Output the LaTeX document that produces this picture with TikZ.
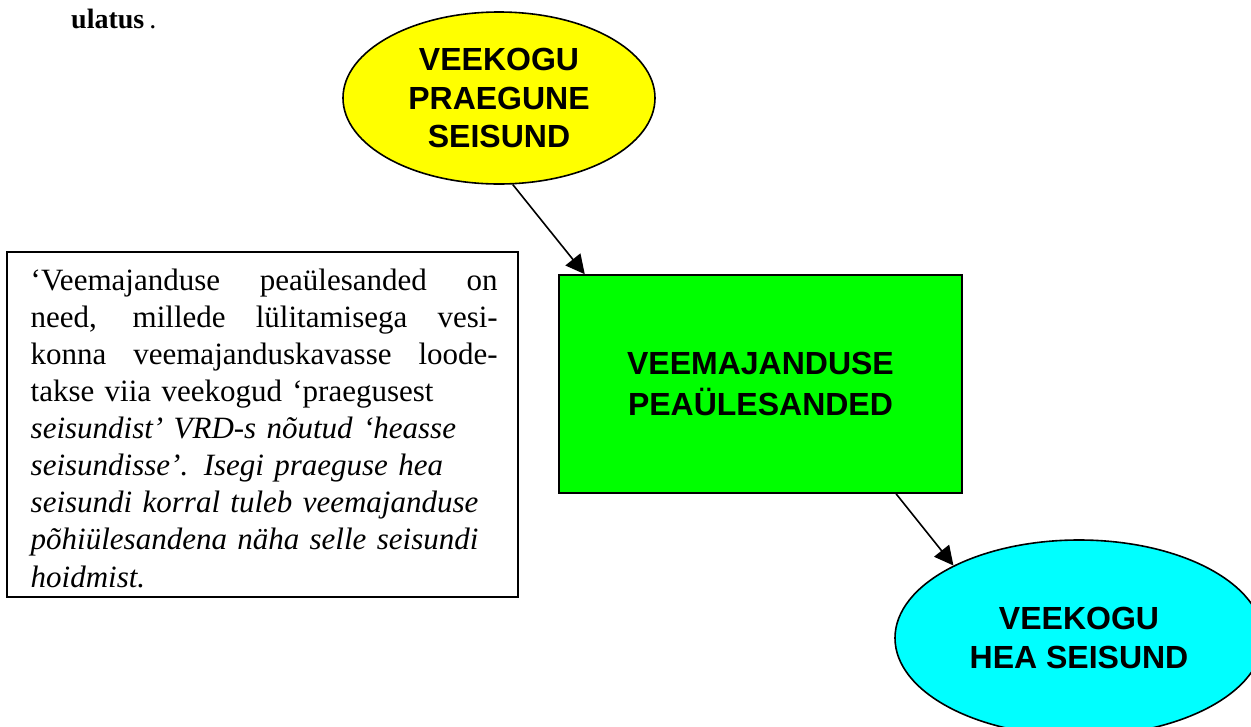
\documentclass[tikz,border=0pt]{standalone}
\usepackage{fontspec}
\setmainfont{Liberation Serif}
\setsansfont{Liberation Sans}
\usetikzlibrary{arrows.meta,shapes.geometric}
\definecolor{stateyellow}{HTML}{FFFF00}
\definecolor{taskgreen}{HTML}{00FF00}
\definecolor{goodcyan}{HTML}{00FFFF}
\newcommand{\fullline}[1]{{\spaceskip=0pt\xspaceskip=0pt\makebox[467pt][s]{#1}}}
\tikzset{
    statenode/.style={ellipse,draw,line width=1.6pt,inner sep=0pt,align=center,
        font=\sffamily\bfseries\fontsize{32}{38.5}\selectfont},
    tasknode/.style={rectangle,draw,line width=1.6pt,fill=taskgreen,inner sep=0pt,
        minimum width=403pt,minimum height=218pt,align=center,
        font=\sffamily\bfseries\fontsize{32}{41.7}\selectfont},
    flow/.style={line width=1.6pt,-{Triangle[length=19pt,width=19pt]}}
}
\begin{document}
\begin{tikzpicture}[x=1pt,y=-1pt]
        \useasboundingbox (0,0) rectangle (1251,726);
        %% end of the text above
        \node[anchor=base west,inner sep=0pt,font=\bfseries\fontsize{28}{34}\selectfont] (tail) at (71,28)
            {ulatus\kern5pt\mdseries.};
        %% states and task
        \node[statenode,fill=stateyellow,minimum width=312pt,minimum height=172pt] (now) at (499,98)
            {VEEKOGU\\PRAEGUNE\\SEISUND};
        \node[tasknode] (task) at (760.5,384) {VEEMAJANDUSE\\PEAÜLESANDED};
        \node[statenode,fill=goodcyan,minimum width=368pt,minimum height=196pt] (good) at (1079,638)
            {VEEKOGU\\HEA SEISUND};
        \draw[flow] (now.-81) -- (task.148);
        \draw[flow] (task.-39) -- (good.150);
        %% note
        \node[draw,line width=1.3pt,minimum width=511pt,minimum height=345pt,inner sep=0pt] (note) at (262.5,424.5) {};
        \node[anchor=north west,inner sep=0pt,text width=467pt,align=left,
            font=\fontsize{31}{37.1}\selectfont] (notetext) at (30.5,264.03) {\strut
            \fullline{‘Veemajanduse peaülesanded on}\\
            \fullline{need, millede lülitamisega vesi-}\\
            \fullline{konna veemajanduskavasse loode-}\\
            takse viia veekogud ‘praegusest\\
            \textit{seisundist’ VRD-s nõutud ‘heasse}\\
            \textit{seisundisse’. Isegi praeguse hea}\\
            \textit{seisundi korral tuleb veemajanduse}\\
            \textit{põhiülesandena näha selle seisundi}\\
            \textit{hoidmist.}};
    \end{tikzpicture}
\end{document}
